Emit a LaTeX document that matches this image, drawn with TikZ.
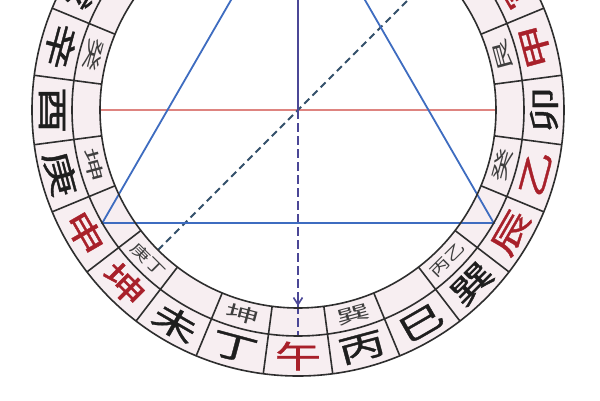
\documentclass[tikz,border=0pt]{standalone}
\usepackage{fontspec}
\newfontfamily\cjk[FakeBold=1.2,FakeStretch=1.5]{Noto Sans CJK SC}
\newfontfamily\cjkin[FakeStretch=1.9]{Noto Sans CJK SC}
\newfontfamily\cjksm[FakeStretch=1.4]{Noto Sans CJK SC}
\usetikzlibrary{arrows.meta}
\definecolor{ringfill}{HTML}{F7EEF1}
\definecolor{ringline}{HTML}{2E2E2E}
\definecolor{redch}{HTML}{A8202A}
\definecolor{blackch}{HTML}{1E1E1E}
\definecolor{innerch}{HTML}{3E3E3E}
\definecolor{triblue}{HTML}{3E6CC0}
\definecolor{hred}{HTML}{DE8480}
\definecolor{vpurple}{HTML}{4B4796}
\definecolor{dashblue}{HTML}{33506A}
\tikzset{
  ringstroke/.style={draw=ringline, line width=1.6pt},
  outerlbl/.style={font=\cjk\fontsize{31}{31}\selectfont, inner sep=0pt},
  innerlbl/.style={font=\cjkin\fontsize{18}{18}\selectfont, inner sep=0pt, text=innerch},
  innerlblsm/.style={font=\cjksm\fontsize{15}{15}\selectfont, inner sep=0pt, text=innerch},
  triline/.style={draw=triblue, line width=1.8pt},
  redline/.style={draw=hred, line width=1.3pt},
  vline/.style={draw=vpurple, line width=1.6pt},
  diagline/.style={draw=dashblue, line width=1.9pt, dash pattern=on 7pt off 4.5pt}
}
\begin{document}
\begin{tikzpicture}[x=1pt,y=1pt]
\useasboundingbox (-298,-290) rectangle (302,110);
\fill[white] (-298,-290) rectangle (302,110);
\clip (-298,-290) rectangle (302,110);
% rings
\fill[ringfill, even odd rule] (0,0) circle (266) (0,0) circle (198);
% key points
\coordinate (O) at (0,0);
\coordinate (A) at (90:226);
\coordinate (B) at (210:226);
\coordinate (C) at (330:226);
\coordinate (HL) at (180:198);
\coordinate (HR) at (0:198);
\coordinate (VT) at (0,140);
\coordinate (VA) at (0,-196);
\coordinate (VB) at (0,-226);
\coordinate (DL) at (225:198);
\coordinate (DR) at (45:320);
% lines inside
\draw[redline] (HL) -- (HR);
\draw[diagline] (DL) -- (DR);
\draw[vline] (VT) -- (O);
\draw[vline, dash pattern=on 9pt off 4pt] (O) -- (VB);
\draw[vline, -{Straight Barb[length=7pt,width=9pt]}] (0,-185) -- (VA);
\draw[triline] (A) -- (B) -- (C) -- cycle;
% ring lines
\draw[ringstroke] (O) circle (266) (O) circle (226) (O) circle (198);
\foreach \a in {-82.5,-67.5,...,270} \draw[ringstroke] (\a:198) -- (\a:266);
% outer 24 mountains
\foreach \a/\c/\col [count=\i] in {
  -90/午/redch, -75/丙/blackch, -60/巳/blackch, -45/巽/blackch, -30/辰/redch,
  -15/乙/redch, 0/卯/blackch, 15/甲/redch, 30/寅/redch, 45/艮/blackch,
  -105/丁/blackch, -120/未/blackch, -135/坤/redch, -150/申/redch,
  -165/庚/blackch, 180/酉/blackch, 165/辛/blackch, 150/戌/blackch, 135/乾/blackch}
  \node[outerlbl, text=\col, rotate=\a+90, name=out\i] at (\a:246) {\c};
% inner ring
\foreach \a/\c [count=\i] in {165/癸, -165/坤, -105/坤, -75/巽, -15/癸, 15/艮}
  \node[innerlbl, rotate=\a+90, name=inn\i] at (\a:212) {\c};
\foreach \a/\c [count=\i] in {-135/庚丁, -45/丙乙}
  \node[innerlblsm, rotate=\a+90, name=insm\i] at (\a:212) {\c};
\end{tikzpicture}
\end{document}
